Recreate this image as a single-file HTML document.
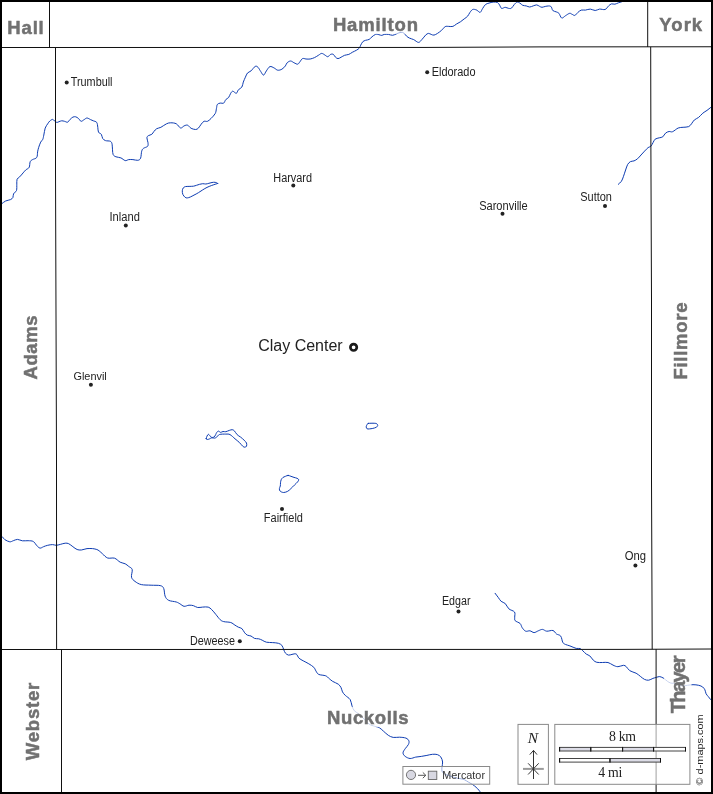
<!DOCTYPE html>
<html><head><meta charset="utf-8">
<style>
html,body{margin:0;padding:0;background:#fff;}
body{width:713px;height:794px;overflow:hidden;}
svg{display:block;will-change:transform;}
.cty{font-family:"Liberation Sans",Arial,sans-serif;font-weight:bold;fill:#717171;stroke:#717171;stroke-width:0.5px;}
.twn{font-family:"Liberation Sans",Arial,sans-serif;fill:#222;}
.mer{font-family:"Liberation Sans",Arial,sans-serif;fill:#333;}
.dm{font-family:"Liberation Sans",Arial,sans-serif;fill:#222;}
.ser{font-family:"Liberation Serif","Times New Roman",serif;fill:#222;}
.serit{font-family:"Liberation Serif","Times New Roman",serif;font-style:italic;fill:#222;}
</style></head>
<body>
<svg width="713" height="794" viewBox="0 0 713 794">
<rect x="0" y="0" width="713" height="794" fill="#fff"/>
<g fill="none" stroke="#0d3cb2" stroke-width="1" stroke-linejoin="round" stroke-linecap="round">
<path d="M2.1 203.5C2.7 203.1 4.2 201.7 5.6 201.0C7.0 200.3 9.3 200.2 10.5 199.6C11.7 199.0 12.4 198.5 12.9 197.5C13.4 196.5 13.0 194.9 13.6 193.7C14.2 192.5 16.0 192.1 16.5 190.5C17.0 188.9 16.7 186.1 16.8 184.2C16.9 182.3 16.6 180.4 17.1 179.2C17.6 178.0 18.6 177.9 19.6 176.9C20.6 175.9 22.1 174.1 23.1 172.9C24.2 171.7 24.9 170.7 25.9 169.8C26.9 168.9 28.5 168.7 29.2 167.3C29.9 166.0 29.6 163.0 30.2 161.7C30.8 160.4 31.4 160.3 32.5 159.6C33.6 158.9 35.9 158.8 36.7 157.5C37.6 156.2 37.3 153.5 37.6 151.9C37.9 150.3 38.1 149.3 38.6 147.7C39.1 146.1 40.0 143.5 40.7 142.1C41.4 140.7 42.3 140.5 42.8 139.3C43.3 138.1 43.4 137.0 43.8 135.1C44.2 133.2 44.6 130.0 45.2 128.1C45.9 126.2 46.9 125.0 47.7 123.8C48.5 122.6 49.0 121.7 49.8 121.0C50.6 120.3 51.8 119.4 52.6 119.4C53.4 119.4 53.7 120.3 54.4 120.8C55.1 121.3 56.0 122.2 56.8 122.4C57.5 122.6 58.1 122.0 58.9 121.7C59.7 121.4 60.8 120.9 61.7 120.8C62.6 120.7 63.5 121.1 64.5 121.3C65.5 121.5 66.7 122.5 67.6 122.2C68.5 121.9 69.2 120.2 70.1 119.4C71.0 118.6 72.0 117.5 72.9 117.1C73.8 116.7 74.8 116.6 75.7 116.8C76.6 117.0 77.6 117.8 78.5 118.5C79.4 119.2 80.1 121.1 81.1 121.3C82.0 121.5 83.2 120.1 84.2 119.6C85.2 119.0 86.0 118.0 87.0 118.0C88.0 118.0 89.5 119.1 90.5 119.6C91.5 120.1 92.3 120.3 93.3 120.8C94.3 121.3 96.0 121.3 96.7 122.4C97.5 123.5 97.5 125.7 97.8 127.3C98.1 128.9 97.9 131.0 98.5 132.2C99.1 133.4 100.6 133.2 101.3 134.3C102.0 135.4 102.0 137.4 102.7 138.5C103.4 139.6 104.2 140.1 105.5 140.6C106.8 141.1 109.3 140.7 110.4 141.3C111.5 141.9 111.8 142.8 112.1 144.2C112.4 145.6 112.3 148.1 112.5 149.8C112.7 151.6 112.6 153.5 113.2 154.7C113.8 155.9 114.7 156.3 116.0 156.8C117.3 157.3 119.4 157.3 120.9 157.9C122.4 158.5 123.9 160.3 125.2 160.6C126.5 160.9 127.4 159.8 128.7 159.6C130.0 159.4 131.4 159.5 132.9 159.6C134.4 159.7 136.5 160.5 137.8 160.3C139.1 160.1 139.9 159.7 140.6 158.2C141.2 156.7 141.2 152.8 141.7 151.2C142.2 149.6 142.4 149.2 143.4 148.4C144.4 147.6 146.8 147.2 147.6 146.3C148.4 145.4 148.1 144.1 148.0 142.7C147.9 141.3 146.8 139.0 146.9 137.8C147.0 136.6 147.5 136.3 148.3 135.7C149.1 135.1 150.9 135.0 151.8 134.3C152.7 133.6 153.1 132.4 153.9 131.5C154.7 130.6 155.5 129.4 156.7 128.7C157.9 128.0 159.3 128.1 160.9 127.3C162.5 126.5 164.9 124.5 166.5 123.8C168.1 123.0 169.1 122.8 170.7 122.8C172.3 122.8 174.7 122.9 176.3 123.8C178.0 124.7 179.3 127.7 180.6 128.0C181.9 128.3 182.9 126.4 184.1 125.9C185.3 125.4 186.4 124.8 187.6 125.2C188.8 125.6 189.8 127.6 191.1 128.3C192.4 129.0 194.4 129.5 195.6 129.5C196.8 129.5 197.5 129.0 198.4 128.1C199.3 127.2 200.3 125.3 201.2 124.2C202.1 123.1 202.9 121.8 204.0 121.3C205.1 120.8 206.3 121.8 207.5 121.3C208.7 120.8 209.7 119.8 211.0 118.5C212.3 117.2 214.3 115.2 215.2 113.6C216.1 112.0 216.1 110.2 216.4 108.7C216.8 107.2 216.7 105.4 217.3 104.5C217.9 103.6 219.1 103.3 220.2 103.1C221.3 102.9 222.8 103.7 223.7 103.1C224.6 102.5 225.0 100.5 225.8 99.6C226.6 98.7 227.8 98.5 228.6 97.5C229.4 96.5 230.0 94.3 230.7 93.3C231.4 92.2 231.9 91.2 232.8 91.2C233.7 91.2 235.4 93.5 236.3 93.3C237.2 93.1 237.5 90.8 238.4 89.8C239.3 88.8 241.1 88.3 241.9 87.0C242.7 85.7 242.7 83.7 243.3 82.1C243.9 80.5 244.7 78.7 245.4 77.2C246.1 75.7 246.6 74.0 247.5 73.0C248.4 72.0 249.7 72.0 251.0 70.9C252.3 69.8 254.0 67.0 255.2 66.4C256.4 65.8 257.1 66.4 258.0 67.3C258.9 68.2 259.9 70.3 260.8 71.6C261.7 72.9 262.7 75.2 263.6 75.1C264.5 75.0 265.3 72.3 266.4 70.9C267.4 69.5 268.6 67.1 269.9 66.6C271.2 66.1 272.9 67.4 274.2 68.0C275.5 68.6 276.4 70.0 277.7 70.2C279.0 70.4 280.6 69.9 281.9 69.2C283.2 68.5 284.5 67.0 285.4 65.9C286.3 64.8 286.2 63.6 287.1 62.8C288.0 62.0 289.4 61.0 290.6 61.0C291.8 61.0 292.9 62.3 294.1 62.8C295.3 63.3 296.7 64.3 297.6 64.2C298.5 64.1 298.9 63.0 299.7 62.1C300.5 61.2 301.4 59.1 302.5 58.6C303.6 58.1 304.7 58.9 306.0 59.0C307.3 59.1 308.8 59.2 310.2 59.0C311.6 58.8 313.1 58.2 314.5 57.6C315.9 57.0 317.5 55.8 318.7 55.1C319.9 54.4 320.6 53.4 321.7 53.4C322.8 53.4 324.0 54.5 325.0 55.1C326.0 55.7 326.9 56.8 327.8 56.7C328.7 56.6 329.7 54.8 330.6 54.4C331.5 54.0 332.6 53.9 333.4 54.4C334.2 54.9 334.7 56.5 335.5 57.2C336.3 57.9 337.1 58.6 338.0 58.6C338.9 58.6 340.0 57.8 341.1 57.2C342.2 56.7 343.3 55.8 344.6 55.3C345.9 54.8 347.5 54.9 348.8 54.4C350.1 53.9 351.0 53.0 352.3 52.3C353.6 51.6 355.3 50.9 356.5 50.2C357.7 49.5 358.6 48.9 359.3 48.1C360.0 47.3 360.1 46.3 360.7 45.2C361.3 44.1 362.0 42.5 362.8 41.7C363.6 40.9 364.5 40.7 365.6 40.3C366.7 39.9 368.1 40.0 369.2 39.4C370.3 38.8 370.9 37.6 372.0 36.8C373.1 36.0 374.3 34.8 375.5 34.4C376.7 34.0 377.9 34.5 379.0 34.7C380.1 34.9 380.9 35.5 381.8 35.4C382.7 35.3 383.1 34.6 384.2 34.4C385.3 34.2 387.0 34.2 388.4 34.4C389.8 34.5 391.2 35.4 392.6 35.3C394.0 35.2 395.4 34.2 396.8 33.7C398.2 33.2 399.8 32.4 401.0 32.3C402.2 32.2 402.9 32.4 403.8 33.0C404.7 33.6 405.7 35.4 406.6 36.2C407.6 37.1 408.3 37.5 409.5 38.1C410.7 38.7 412.2 38.9 413.7 39.6C415.2 40.3 417.2 42.5 418.6 42.4C420.0 42.3 420.9 40.5 422.1 39.3C423.3 38.1 424.6 36.1 425.6 35.1C426.7 34.1 427.5 33.5 428.4 33.4C429.3 33.3 430.3 34.1 431.2 34.4C432.1 34.7 432.9 35.3 434.0 35.1C435.1 34.9 436.2 34.2 437.5 33.4C438.8 32.6 440.4 31.3 441.7 30.2C443.0 29.1 444.0 27.2 445.2 26.6C446.4 26.0 447.4 26.4 448.7 26.4C450.0 26.4 451.6 26.8 452.9 26.4C454.2 26.0 455.1 24.9 456.4 24.1C457.7 23.3 459.3 22.6 460.6 21.7C461.9 20.8 463.0 19.8 464.2 18.9C465.4 18.0 466.8 17.2 467.7 16.1C468.6 15.1 469.0 13.7 469.8 12.6C470.6 11.5 471.6 10.0 472.6 9.5C473.7 9.0 475.2 9.6 476.1 9.8C477.0 10.0 477.1 10.5 477.8 10.9C478.5 11.3 479.5 12.7 480.3 12.3C481.1 11.9 481.8 9.7 482.7 8.4C483.6 7.1 484.4 5.4 485.5 4.5C486.6 3.6 487.7 3.5 489.0 3.1C490.3 2.7 491.8 2.2 493.2 2.1C494.6 2.0 496.3 2.0 497.4 2.5C498.4 3.0 498.8 3.9 499.5 4.9C500.2 5.9 500.7 8.0 501.6 8.4C502.6 8.8 504.0 7.3 505.2 7.3C506.4 7.3 507.6 8.3 508.7 8.4C509.8 8.5 510.6 8.8 511.5 8.1C512.4 7.4 513.4 5.5 514.3 4.5C515.2 3.5 516.2 2.3 517.1 2.1C518.0 1.9 519.0 2.6 519.9 3.1C520.8 3.6 521.7 4.8 522.7 5.3C523.8 5.8 525.0 5.6 526.2 5.9C527.4 6.2 528.5 7.0 529.7 7.0C530.9 7.0 532.0 6.2 533.2 5.9C534.4 5.6 535.7 4.8 536.7 4.9C537.8 5.0 538.6 5.9 539.5 6.3C540.4 6.7 541.0 7.3 542.0 7.3C543.0 7.3 544.3 6.5 545.8 6.3C547.2 6.1 549.5 5.6 550.7 6.3C551.9 7.0 551.9 9.6 552.8 10.5C553.7 11.4 555.3 11.4 556.3 11.9C557.3 12.4 558.0 12.3 558.9 13.3C559.8 14.3 560.6 17.6 561.7 18.0C562.8 18.4 564.2 16.5 565.5 15.7C566.8 14.9 568.6 13.5 569.7 13.3C570.8 13.1 571.2 14.0 572.1 14.3C573.0 14.7 574.0 15.7 574.9 15.4C575.8 15.1 576.7 13.5 577.7 12.6C578.8 11.7 579.9 10.5 581.2 10.1C582.5 9.7 583.9 10.3 585.4 10.1C586.9 9.9 588.7 9.0 590.3 9.1C591.9 9.2 593.7 10.5 595.2 10.5C596.7 10.5 597.9 9.3 599.5 9.1C601.1 8.9 603.6 10.0 605.1 9.5C606.6 9.0 607.6 6.8 608.6 5.9C609.6 5.0 610.4 4.2 611.4 3.9C612.4 3.6 613.7 4.4 614.9 4.2C616.1 4.0 617.2 3.2 618.4 2.8C619.6 2.4 620.8 2.1 621.9 1.7C623.0 1.3 624.5 0.7 625.0 0.5"/>
<path d="M618.3 184.3C618.8 183.8 620.5 182.6 621.4 181.3C622.3 180.0 622.8 178.2 623.5 176.3C624.2 174.4 624.9 172.0 625.6 170.0C626.3 168.0 626.9 165.8 627.7 164.4C628.5 163.0 629.5 162.2 630.5 161.6C631.5 161.0 632.8 161.4 634.0 160.9C635.2 160.4 636.3 159.8 637.5 158.8C638.7 157.8 639.8 156.3 641.0 155.0C642.2 153.7 643.4 152.3 644.6 151.1C645.8 149.9 647.1 148.4 648.1 147.6C649.1 146.8 650.1 147.0 650.9 146.2C651.7 145.4 652.3 143.9 653.0 142.7C653.7 141.5 654.1 140.0 655.1 139.2C656.1 138.4 658.0 138.2 659.3 137.8C660.6 137.4 661.8 137.6 662.8 136.8C663.8 136.0 664.5 134.0 665.6 133.1C666.7 132.2 667.9 131.7 669.1 131.5C670.3 131.3 671.1 132.3 672.6 131.7C674.1 131.1 676.5 128.7 678.2 128.0C680.0 127.3 681.4 127.5 683.1 127.3C684.9 127.1 687.3 127.2 688.7 126.6C690.1 126.0 690.6 124.9 691.5 123.8C692.4 122.7 693.1 121.1 694.3 120.0C695.5 118.9 697.2 118.5 698.6 117.4C700.0 116.3 701.4 114.4 702.8 113.2C704.2 112.0 705.6 111.4 707.0 110.4C708.4 109.4 709.7 108.2 710.9 107.3C712.1 106.4 713.5 105.4 714.0 105.0"/>
<path d="M2.5 536.9C2.9 537.4 3.7 538.9 4.9 539.7C6.1 540.5 8.4 541.6 9.8 541.8C11.2 542.0 12.0 541.1 13.3 540.7C14.6 540.3 16.0 539.4 17.5 539.4C19.0 539.4 20.6 540.6 22.4 540.8C24.2 541.0 26.3 540.6 28.1 540.7C29.9 540.8 32.0 540.7 33.4 541.5C34.8 542.3 35.4 544.2 36.5 545.3C37.6 546.4 38.8 547.9 40.0 548.1C41.2 548.3 42.2 547.2 43.5 546.7C44.8 546.2 46.2 545.6 47.7 545.3C49.2 544.9 51.2 544.6 52.6 544.6C54.0 544.6 54.8 545.3 56.1 545.3C57.4 545.3 58.8 544.8 60.3 544.4C61.8 544.0 63.8 543.3 65.2 543.2C66.6 543.1 67.4 543.1 68.7 543.7C70.0 544.3 71.5 545.7 72.9 546.7C74.3 547.7 75.7 549.0 77.1 549.5C78.5 550.0 79.6 550.1 81.3 550.0C83.0 549.9 85.1 548.8 87.0 548.6C88.9 548.4 91.0 548.5 92.6 548.6C94.2 548.8 95.7 549.1 96.8 549.5C97.9 549.9 98.2 550.1 99.2 550.9C100.2 551.6 101.3 552.8 102.7 554.0C104.1 555.2 105.6 557.3 107.6 558.0C109.6 558.7 112.5 557.5 114.6 558.2C116.7 558.9 118.4 561.3 120.2 562.2C122.0 563.1 123.8 563.1 125.2 563.8C126.6 564.5 127.5 565.4 128.7 566.4C129.9 567.4 131.7 567.7 132.2 569.5C132.7 571.3 131.0 575.2 131.5 577.2C132.0 579.2 133.4 580.2 135.0 581.4C136.6 582.6 138.6 584.0 141.3 584.6C144.0 585.2 147.9 585.0 151.1 585.2C154.2 585.4 158.1 585.1 160.2 585.6C162.3 586.1 162.9 586.6 163.7 588.4C164.5 590.1 164.3 594.1 165.1 596.1C165.9 598.1 166.7 599.3 168.6 600.3C170.5 601.3 174.4 601.4 176.3 602.0C178.2 602.6 178.6 603.1 179.9 603.8C181.2 604.5 182.6 606.1 184.1 606.3C185.6 606.5 187.4 605.3 189.0 605.2C190.6 605.1 192.1 605.3 193.5 605.7C194.9 606.1 196.2 607.3 197.7 607.5C199.2 607.7 200.8 607.2 202.6 607.1C204.3 607.0 206.7 606.7 208.2 607.1C209.7 607.5 210.4 608.4 211.7 609.6C213.0 610.8 214.5 612.8 215.9 614.5C217.3 616.2 218.9 618.5 220.2 619.7C221.5 620.9 221.9 621.1 223.7 621.6C225.4 622.1 228.8 621.9 230.7 622.5C232.6 623.1 233.6 624.3 234.9 625.1C236.2 625.9 237.2 626.6 238.4 627.2C239.6 627.8 240.9 627.7 241.9 628.6C242.9 629.5 243.8 631.7 244.7 632.8C245.6 633.9 246.4 634.7 247.5 635.2C248.6 635.7 249.8 635.5 251.0 636.0C252.2 636.5 253.2 637.9 254.5 638.4C255.8 638.9 257.4 638.5 258.7 638.8C260.0 639.1 260.9 639.6 262.2 640.2C263.5 640.8 264.6 641.8 266.4 642.2C268.1 642.6 270.7 642.4 272.7 642.6C274.7 642.8 276.9 642.8 278.4 643.3C279.9 643.8 281.0 644.3 281.9 645.4C282.8 646.5 283.1 648.3 283.7 649.6C284.3 650.9 284.6 652.2 285.4 653.1C286.2 654.0 287.4 654.9 288.5 655.1C289.6 655.3 290.7 654.6 292.0 654.4C293.3 654.2 295.0 653.4 296.2 654.0C297.4 654.6 297.8 657.1 299.0 658.2C300.2 659.3 301.6 659.9 303.2 660.8C304.8 661.7 307.0 662.7 308.8 663.8C310.6 664.9 312.6 666.1 313.8 667.3C315.0 668.5 315.1 669.7 315.9 670.9C316.7 672.1 317.1 673.6 318.7 674.4C320.3 675.2 323.9 675.1 325.7 675.8C327.4 676.5 328.0 677.7 329.2 678.6C330.4 679.5 331.2 680.5 332.7 681.4C334.2 682.3 336.9 683.2 338.3 684.2C339.7 685.2 340.4 686.4 341.1 687.7C341.8 689.0 341.8 690.6 342.5 691.9C343.2 693.2 344.0 694.1 345.3 695.4C346.6 696.7 349.1 697.9 350.2 699.6C351.3 701.4 351.3 704.0 352.0 705.9C352.7 707.8 353.2 709.4 354.4 710.8C355.6 712.2 357.7 712.9 359.3 714.3C360.9 715.7 362.6 717.6 364.2 719.2C365.8 720.9 367.4 723.0 369.2 724.2C371.0 725.4 373.1 725.7 374.8 726.3C376.5 726.9 377.8 726.8 379.2 727.6C380.6 728.4 381.9 729.8 383.4 731.1C384.9 732.4 386.7 734.2 388.3 735.3C389.9 736.3 391.3 737.1 393.2 737.4C395.1 737.7 397.4 737.1 399.5 737.2C401.6 737.3 404.3 737.5 405.9 738.1C407.5 738.7 408.5 739.8 408.9 740.9C409.3 742.0 409.0 743.2 408.4 744.5C407.8 745.8 406.1 747.3 405.2 748.7C404.3 750.1 403.0 751.6 403.0 752.9C403.0 754.2 404.0 755.5 405.2 756.4C406.4 757.3 408.4 758.4 410.1 758.5C411.9 758.6 413.8 757.5 415.7 757.1C417.6 756.8 419.4 756.7 421.3 756.4C423.2 756.1 425.0 755.8 426.9 755.4C428.8 755.0 430.8 754.4 432.5 754.3C434.2 754.2 436.0 754.1 437.4 754.6C438.8 755.1 440.0 755.9 440.9 757.1C441.8 758.3 442.4 760.4 442.6 762.0C442.8 763.6 442.1 765.4 442.0 766.9C441.9 768.4 441.6 769.9 442.0 771.1C442.4 772.3 443.1 773.1 444.4 773.9C445.7 774.7 448.0 775.3 450.0 776.0C452.0 776.7 454.6 777.7 456.3 778.1C458.0 778.5 458.7 778.4 460.0 778.6C461.3 778.9 462.8 779.0 464.2 779.6C465.6 780.2 467.0 781.3 468.4 782.1C469.8 782.9 471.3 783.6 472.6 784.5C473.9 785.4 475.1 786.3 476.1 787.3C477.2 788.2 478.1 789.2 478.9 790.2C479.7 791.2 480.6 792.5 481.0 793.0"/>
<path d="M495.1 593.3C495.6 594.0 497.3 596.2 498.3 597.5C499.3 598.8 499.9 600.3 501.1 601.3C502.3 602.3 504.0 602.4 505.3 603.6C506.6 604.9 507.3 607.4 508.8 608.8C510.3 610.2 513.5 610.6 514.5 612.0C515.5 613.4 514.6 615.8 514.7 617.2C514.8 618.7 514.3 619.7 515.2 620.7C516.1 621.8 518.9 622.3 520.1 623.5C521.3 624.7 521.3 626.4 522.2 627.7C523.1 629.0 524.4 630.7 525.7 631.2C527.0 631.7 528.5 630.6 529.9 630.8C531.3 631.0 532.7 632.6 534.1 632.6C535.5 632.6 536.9 631.3 538.3 630.8C539.7 630.3 541.1 629.3 542.5 629.4C543.9 629.5 545.0 631.0 546.7 631.2C548.5 631.4 551.4 630.0 553.0 630.5C554.6 631.0 555.2 633.1 556.5 634.0C557.8 634.9 559.7 634.7 560.7 636.1C561.8 637.5 562.0 641.0 562.8 642.4C563.6 643.8 564.4 643.9 565.6 644.5C566.8 645.1 568.1 645.2 569.9 645.9C571.7 646.5 574.5 648.0 576.2 648.4C577.9 648.8 578.9 648.1 580.0 648.5C581.1 648.9 581.8 649.9 582.8 650.8C583.8 651.7 585.1 653.2 586.3 654.1C587.5 655.0 588.6 654.9 589.8 655.9C591.0 656.9 592.1 659.1 593.3 660.2C594.5 661.3 595.3 661.9 596.8 662.3C598.3 662.7 600.5 662.5 602.4 662.5C604.3 662.5 606.2 662.1 608.0 662.5C609.8 662.9 611.4 664.4 613.0 665.1C614.6 665.8 616.1 666.7 617.9 666.7C619.6 666.7 622.1 665.3 623.5 665.3C624.9 665.3 625.2 665.8 626.3 666.7C627.3 667.6 628.2 669.6 629.8 670.7C631.4 671.8 634.4 672.3 636.1 673.2C637.9 674.1 638.9 675.3 640.3 676.3C641.7 677.3 643.1 678.8 644.5 679.4C645.9 680.0 647.3 680.4 648.7 680.2C650.1 680.0 651.6 678.9 652.9 678.4C654.2 677.9 655.2 677.7 656.4 677.4C657.5 677.1 658.5 676.4 659.8 676.6C661.0 676.8 662.6 677.6 663.9 678.4C665.1 679.2 666.1 680.4 667.3 681.2C668.5 682.0 669.4 682.7 670.9 683.1C672.4 683.5 674.2 683.1 676.0 683.6C677.8 684.1 679.8 685.6 681.7 685.9C683.6 686.2 685.5 685.5 687.4 685.3C689.3 685.1 691.1 684.7 693.0 684.7C694.9 684.7 697.1 684.9 698.7 685.3C700.3 685.7 701.7 686.2 702.7 687.0C703.7 687.8 704.3 688.7 704.9 689.8C705.5 690.9 705.5 692.7 706.1 693.8C706.7 694.9 707.5 695.6 708.3 696.6C709.0 697.6 709.8 698.6 710.6 699.5C711.4 700.4 712.6 701.6 713.0 702.0"/>
<path d="M217.8 183.4C217.8 183.1 216.0 182.5 215.0 182.3C214.0 182.2 213.0 182.3 212.0 182.5C211.0 182.7 209.9 183.1 208.9 183.3C207.9 183.6 206.8 183.9 205.8 184.0C204.8 184.1 203.7 183.6 202.7 183.7C201.7 183.8 200.6 184.0 199.6 184.3C198.6 184.6 197.5 185.0 196.5 185.3C195.5 185.6 194.6 186.0 193.4 186.2C192.2 186.4 190.4 186.3 189.1 186.4C187.8 186.5 186.4 186.3 185.4 186.6C184.4 186.9 183.7 187.3 183.2 188.0C182.7 188.7 182.4 189.7 182.3 190.8C182.2 191.9 182.4 193.4 182.9 194.5C183.4 195.6 184.4 196.7 185.1 197.3C185.8 197.9 186.4 198.0 187.3 197.9C188.2 197.8 189.2 197.5 190.3 197.0C191.4 196.5 192.7 195.8 194.0 195.1C195.3 194.4 197.0 193.6 198.4 192.7C199.8 191.8 201.3 190.8 202.7 189.9C204.1 189.0 205.6 188.1 207.0 187.4C208.4 186.7 210.0 186.1 211.3 185.6C212.6 185.1 213.9 184.7 215.0 184.3C216.1 183.9 217.8 183.7 217.8 183.4Z"/>
<path d="M206.2 438.5C206.4 437.6 207.5 434.5 208.3 434.3C209.1 434.1 210.2 436.6 211.1 437.1C212.0 437.6 213.1 437.5 213.9 437.1C214.7 436.7 215.2 435.4 215.7 434.6C216.2 433.8 216.2 433.1 216.7 432.5C217.2 431.9 217.8 431.1 218.5 431.1C219.2 431.1 219.8 432.3 220.6 432.4C221.3 432.5 222.1 431.6 223.0 431.5C223.9 431.4 224.8 431.9 225.8 431.7C226.9 431.5 228.2 430.7 229.3 430.4C230.4 430.1 231.4 429.6 232.2 429.7C233.0 429.8 233.5 430.0 234.3 430.8C235.1 431.6 236.1 433.6 237.1 434.6C238.1 435.7 239.4 436.2 240.6 437.1C241.8 438.0 243.1 439.2 244.1 440.2C245.1 441.2 246.1 442.0 246.5 443.0C246.9 444.0 246.8 445.5 246.5 446.2C246.2 446.9 245.4 447.2 244.8 447.2C244.2 447.2 243.6 447.0 242.7 446.2C241.8 445.4 240.5 443.5 239.2 442.3C237.9 441.1 236.5 440.1 235.0 438.8C233.5 437.5 231.5 435.4 230.0 434.6C228.5 433.8 227.6 434.1 225.8 434.1C224.1 434.1 221.0 434.0 219.5 434.5C218.0 435.0 217.5 436.5 216.7 437.1C215.9 437.7 215.4 438.0 214.6 438.1C213.8 438.2 212.6 437.7 211.8 437.8C211.0 437.9 210.4 438.5 209.7 438.8C208.9 439.1 207.9 439.6 207.3 439.5C206.7 439.4 206.0 439.4 206.2 438.5Z"/>
<path d="M288.2 475.4C287.3 475.4 286.4 475.9 285.5 476.3C284.6 476.7 283.5 477.0 282.8 477.6C282.1 478.2 281.6 478.8 281.2 479.7C280.8 480.6 280.6 481.8 280.5 482.8C280.4 483.9 280.5 485.0 280.3 486.0C280.1 487.0 279.4 487.8 279.4 488.6C279.4 489.5 279.4 490.5 280.1 491.1C280.8 491.8 282.4 492.5 283.7 492.5C285.0 492.5 286.5 491.9 287.7 491.3C288.9 490.7 289.8 489.6 290.9 488.6C292.0 487.6 293.3 486.2 294.4 485.1C295.5 484.0 296.9 482.8 297.6 481.9C298.3 481.0 298.8 480.3 298.7 479.7C298.6 479.1 297.9 478.7 297.1 478.3C296.3 477.9 295.0 477.7 294.0 477.4C293.0 477.1 291.9 476.6 290.9 476.3C289.9 476.0 289.1 475.4 288.2 475.4Z"/>
<path d="M368.4 423.4C369.8 423.2 374.2 423.1 375.8 423.4C377.4 423.7 377.6 424.8 377.7 425.4C377.8 426.0 377.0 426.8 376.2 427.3C375.4 427.8 373.9 428.1 372.8 428.4C371.7 428.7 370.3 428.8 369.4 428.9C368.4 429.0 367.6 429.1 367.1 428.8C366.6 428.5 366.2 427.5 366.2 426.8C366.2 426.1 366.7 425.2 367.1 424.6C367.5 424.0 366.9 423.6 368.4 423.4Z"/>
</g>
<rect x="324" y="706.8" width="88" height="20.4" fill="#fff" fill-opacity="0.78"/>
<rect x="331" y="15" width="90" height="19" fill="#fff" fill-opacity="0.6"/>
<rect x="664" y="651" width="27.5" height="66" fill="#fff" fill-opacity="0.78"/>
<g fill="none" stroke="#111" stroke-width="1">
<path d="M2 47.5L425 47.45L540 46.9L711 46.75"/>
<path d="M49.5 2V47.5"/>
<path d="M647.7 2V47"/>
<path d="M55.5 47.4L55.5 170L56.5 460L56.6 649.4"/>
<path d="M650.7 46.9L650.9 150L651.5 300L651.5 480L652 600L652.2 649.3"/>
<path d="M2 649.5L620 649.4L711 649"/>
<path d="M61.5 649.4V792"/>
<path d="M656.1 649.2V792"/>
</g>
<!-- county labels -->
<!-- towns -->
<g fill="#222">
<circle cx="66.7" cy="82.5" r="2"/>
<circle cx="427.2" cy="72.3" r="2"/>
<circle cx="293.3" cy="185.6" r="2"/>
<circle cx="125.8" cy="225.5" r="2"/>
<circle cx="502.5" cy="213.8" r="2"/>
<circle cx="605" cy="206" r="2"/>
<circle cx="90.9" cy="384.8" r="2"/>
<circle cx="282" cy="509.1" r="2"/>
<circle cx="635.4" cy="565.4" r="2"/>
<circle cx="458.5" cy="611.6" r="2"/>
<circle cx="239.8" cy="641.2" r="2"/>
</g>
<circle cx="353.6" cy="347.3" r="3.2" fill="#fff" stroke="#1a1a1a" stroke-width="2.7"/>
<!-- north box -->
<rect x="518" y="724.4" width="30.4" height="59.9" fill="#fff" fill-opacity="0.6" stroke="#8a8a8a" stroke-width="1"/>
<path d="M523 768.9H543.8" stroke="#9a9a9a" stroke-width="2"/>
<g stroke="#222" stroke-width="0.9" fill="none">
<path d="M528.1 763.3L538.7 774.5"/>
<path d="M528.1 774.5L538.7 763.3"/>
</g>
<path d="M533.5 750.4V779M529.8 754.6L533.5 750.4L537 754.6" stroke="#333" stroke-width="1" fill="none"/>
<!-- scale box -->
<rect x="554.8" y="724.4" width="135.1" height="59.9" fill="#fff" fill-opacity="0.6" stroke="#8a8a8a" stroke-width="1"/>
<g stroke="#444" stroke-width="1">
<rect x="559.6" y="747.4" width="31.2" height="3.6" fill="#dcdce6"/>
<rect x="590.8" y="747.4" width="31.8" height="3.6" fill="#fff"/>
<rect x="622.6" y="747.4" width="31" height="3.6" fill="#dcdce6"/>
<rect x="653.6" y="747.4" width="31.9" height="3.6" fill="#fff"/>
<rect x="559.6" y="758.5" width="50.4" height="3.6" fill="#fff"/>
<rect x="610" y="758.5" width="50.5" height="3.6" fill="#dcdce6"/>
</g>
<path d="M559.6 747V751.5M590.8 747V751.5M622.6 747V751.5M653.6 747V751.5M685.5 747V751.5M559.6 758V762.5M610 758V762.5M660.5 758V762.5" stroke="#111" stroke-width="1"/>
<!-- mercator badge -->
<rect x="402.9" y="766.5" width="86.8" height="17.7" fill="#fff" fill-opacity="0.6" stroke="#8a8a8a" stroke-width="1"/>
<circle cx="411" cy="774.9" r="4.6" fill="#d8d8e2" stroke="#666" stroke-width="0.9"/>
<path d="M418 775.3H425.6M422.8 772.4L425.8 775.3L422.8 778.2" stroke="#444" stroke-width="0.9" fill="none"/>
<rect x="428.3" y="771.2" width="8.5" height="8.3" fill="#d8d8e2" stroke="#666" stroke-width="0.9"/>
<text class="cty" x="7.28" y="34.30" style="font-size:18.50px" textLength="36.47" lengthAdjust="spacing">Hall</text>
<text class="cty" x="332.90" y="30.60" style="font-size:18.50px" textLength="85.13" lengthAdjust="spacing">Hamilton</text>
<text class="cty" x="659.29" y="30.90" style="font-size:18.50px" textLength="42.87" lengthAdjust="spacing">York</text>
<text class="cty" x="326.90" y="724.10" style="font-size:18.50px" textLength="81.70" lengthAdjust="spacing">Nuckolls</text>
<text class="cty" transform="translate(36.70 379.51) rotate(-90)" style="font-size:18.50px" textLength="64.03" lengthAdjust="spacing">Adams</text>
<text class="cty" transform="translate(687.20 379.60) rotate(-90)" style="font-size:18.50px" textLength="77.04" lengthAdjust="spacing">Fillmore</text>
<text class="cty" transform="translate(38.80 760.17) rotate(-90)" style="font-size:18.50px" textLength="77.36" lengthAdjust="spacing">Webster</text>
<text class="cty" transform="translate(685.36 713.26) rotate(-90)" style="font-size:19.93px" textLength="57.68" lengthAdjust="spacing">Thayer</text>
<text class="twn" x="70.77" y="86.46" style="font-size:12.00px" textLength="41.73" lengthAdjust="spacingAndGlyphs">Trumbull</text>
<text class="twn" x="431.73" y="75.69" style="font-size:12.00px" textLength="43.76" lengthAdjust="spacingAndGlyphs">Eldorado</text>
<text class="twn" x="273.29" y="181.86" style="font-size:12.00px" textLength="38.77" lengthAdjust="spacingAndGlyphs">Harvard</text>
<text class="twn" x="109.49" y="221.40" style="font-size:12.00px" textLength="30.35" lengthAdjust="spacingAndGlyphs">Inland</text>
<text class="twn" x="479.13" y="209.80" style="font-size:12.00px" textLength="48.58" lengthAdjust="spacingAndGlyphs">Saronville</text>
<text class="twn" x="580.28" y="201.15" style="font-size:12.00px" textLength="31.70" lengthAdjust="spacingAndGlyphs">Sutton</text>
<text class="twn" x="73.45" y="379.96" style="font-size:11.30px" textLength="33.34" lengthAdjust="spacingAndGlyphs">Glenvil</text>
<text class="twn" x="263.84" y="521.83" style="font-size:12.00px" textLength="39.13" lengthAdjust="spacingAndGlyphs">Fairfield</text>
<text class="twn" x="624.65" y="559.59" style="font-size:12.00px" textLength="21.28" lengthAdjust="spacingAndGlyphs">Ong</text>
<text class="twn" x="441.99" y="605.37" style="font-size:12.00px" textLength="28.46" lengthAdjust="spacingAndGlyphs">Edgar</text>
<text class="twn" x="190.02" y="645.42" style="font-size:12.00px" textLength="44.95" lengthAdjust="spacingAndGlyphs">Deweese</text>
<text class="twn" x="258.19" y="351.09" style="font-size:16.00px">Clay Center</text>
<text class="mer" x="442.29" y="779.31" style="font-size:11.70px" textLength="42.72" lengthAdjust="spacingAndGlyphs">Mercator</text>
<text class="ser" x="609.09" y="740.69" style="font-size:13.80px" textLength="26.84" lengthAdjust="spacing">8 km</text>
<text class="ser" x="598.14" y="776.83" style="font-size:13.80px" textLength="24.24" lengthAdjust="spacing">4 mi</text>
<text class="serit" x="527.85" y="743.16" style="font-size:15.50px" textLength="22.43" lengthAdjust="spacing">N</text>
<text class="dm" transform="translate(703.34 785.46) rotate(-90)" style="font-size:9.70px" textLength="71.09" lengthAdjust="spacingAndGlyphs">© d-maps.com</text>
<!-- outer border -->
<rect x="1" y="1" width="711" height="792" fill="none" stroke="#000" stroke-width="2"/>
</svg>
</body></html>
